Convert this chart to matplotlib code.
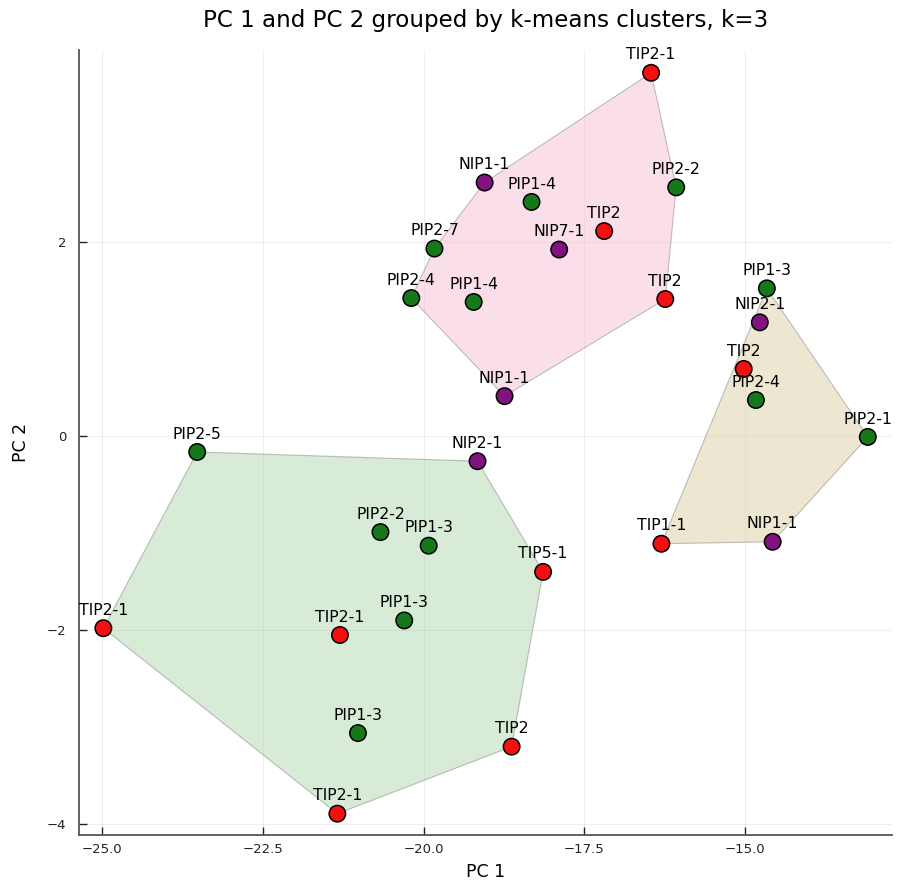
import numpy as np
import matplotlib
matplotlib.use("Agg")
import matplotlib.pyplot as plt

# ---- data ----
names = ["TIP2-1", "NIP1-1", "PIP1-4", "PIP2-2", "PIP2-7", "NIP7-1", "TIP2", "PIP2-4", "PIP1-4", "TIP2", "NIP1-1",
         "PIP1-3", "NIP2-1", "TIP2", "PIP2-4", "PIP2-1", "TIP1-1", "NIP1-1",
         "PIP2-5", "NIP2-1", "PIP2-2", "PIP1-3", "TIP5-1", "TIP2-1", "TIP2-1", "PIP1-3", "PIP1-3", "TIP2", "TIP2-1"]
pc1 = [-16.46, -19.05, -18.32, -16.07, -19.83, -17.89, -17.19, -20.19, -19.22, -16.24, -18.74,
       -14.66, -14.77, -15.02, -14.83, -13.09, -16.30, -14.57,
       -23.52, -19.16, -20.67, -19.92, -18.14, -24.98, -21.30, -20.30, -21.02, -18.63, -21.34]
pc2 = [3.74, 2.61, 2.41, 2.56, 1.93, 1.92, 2.11, 1.42, 1.38, 1.41, 0.41,
       1.52, 1.17, 0.69, 0.37, -0.01, -1.11, -1.09,
       -0.165, -0.26, -0.99, -1.13, -1.40, -1.98, -2.05, -1.90, -3.06, -3.20, -3.89]
cluster = [0] * 11 + [1] * 7 + [2] * 11

cluster_fill = ["#f5b8d3", "#d9cb9c", "#a8d3a8"]
family_color = {"TIP": "#f21010", "PIP": "#16781a", "NIP": "#801380"}

xticks = [-25.0, -22.5, -20.0, -17.5, -15.0]
yticks = [-4, -2, 0, 2]


def convex_hull(pts):
    pts = sorted(set(map(tuple, pts)))
    def cross(o, a, b):
        return (a[0] - o[0]) * (b[1] - o[1]) - (a[1] - o[1]) * (b[0] - o[0])
    lower, upper = [], []
    for p in pts:
        while len(lower) >= 2 and cross(lower[-2], lower[-1], p) <= 0:
            lower.pop()
        lower.append(p)
    for p in reversed(pts):
        while len(upper) >= 2 and cross(upper[-2], upper[-1], p) <= 0:
            upper.pop()
        upper.append(p)
    return np.array(lower[:-1] + upper[:-1])


plt.rcParams['font.family'] = ['DejaVu Sans']
fig = plt.figure(figsize=(9.07, 8.84), dpi=100)
ax = fig.add_axes([0.087, 0.0554, 0.896, 0.8875])

x = np.array(pc1)
y = np.array(pc2)
cl = np.array(cluster)

for k in range(3):
    m = cl == k
    hull = convex_hull(np.column_stack([x[m], y[m]]))
    ax.fill(hull[:, 0], hull[:, 1], facecolor=cluster_fill[k], alpha=0.45,
            edgecolor="#777777", linewidth=0.8, zorder=1)

cols = [family_color[n[:3]] for n in names]
ax.scatter(x, y, s=140, c=cols, edgecolors="black", linewidths=1.1, zorder=3)

for xi, yi, n in zip(x, y, names):
    ax.annotate(n, (xi, yi), xytext=(0, 7.5), textcoords="offset points",
                ha="center", va="bottom", fontsize=11.3, color="black", zorder=4)

ax.set_xlim(-25.36, -12.72)
ax.set_ylim(-4.11, 3.97)
ax.set_xticks(xticks)
ax.set_xticklabels([f"{t:.1f}".replace("-", "\u2212") for t in xticks])
ax.set_yticks(yticks)
ax.set_yticklabels([str(t).replace("-", "\u2212") for t in yticks])
ax.tick_params(direction="in", length=6, width=1, labelsize=9.5, colors="#222222")
ax.tick_params(axis="y", pad=9)
ax.tick_params(axis="x", pad=6)
ax.grid(True, color="black", alpha=0.08, linewidth=0.6)
ax.set_axisbelow(True)
for s in ["top", "right"]:
    ax.spines[s].set_visible(False)
for s in ["left", "bottom"]:
    ax.spines[s].set_color("#555555")
    ax.spines[s].set_linewidth(1.3)

ax.set_xlabel("PC 1", fontsize=12.5, labelpad=5)
ax.set_ylabel("PC 2", fontsize=12.5, labelpad=12)
ax.set_title("PC 1 and PC 2 grouped by k-means clusters, k=3", fontsize=16.6, pad=17)

fig.savefig("out.png", dpi=100)
